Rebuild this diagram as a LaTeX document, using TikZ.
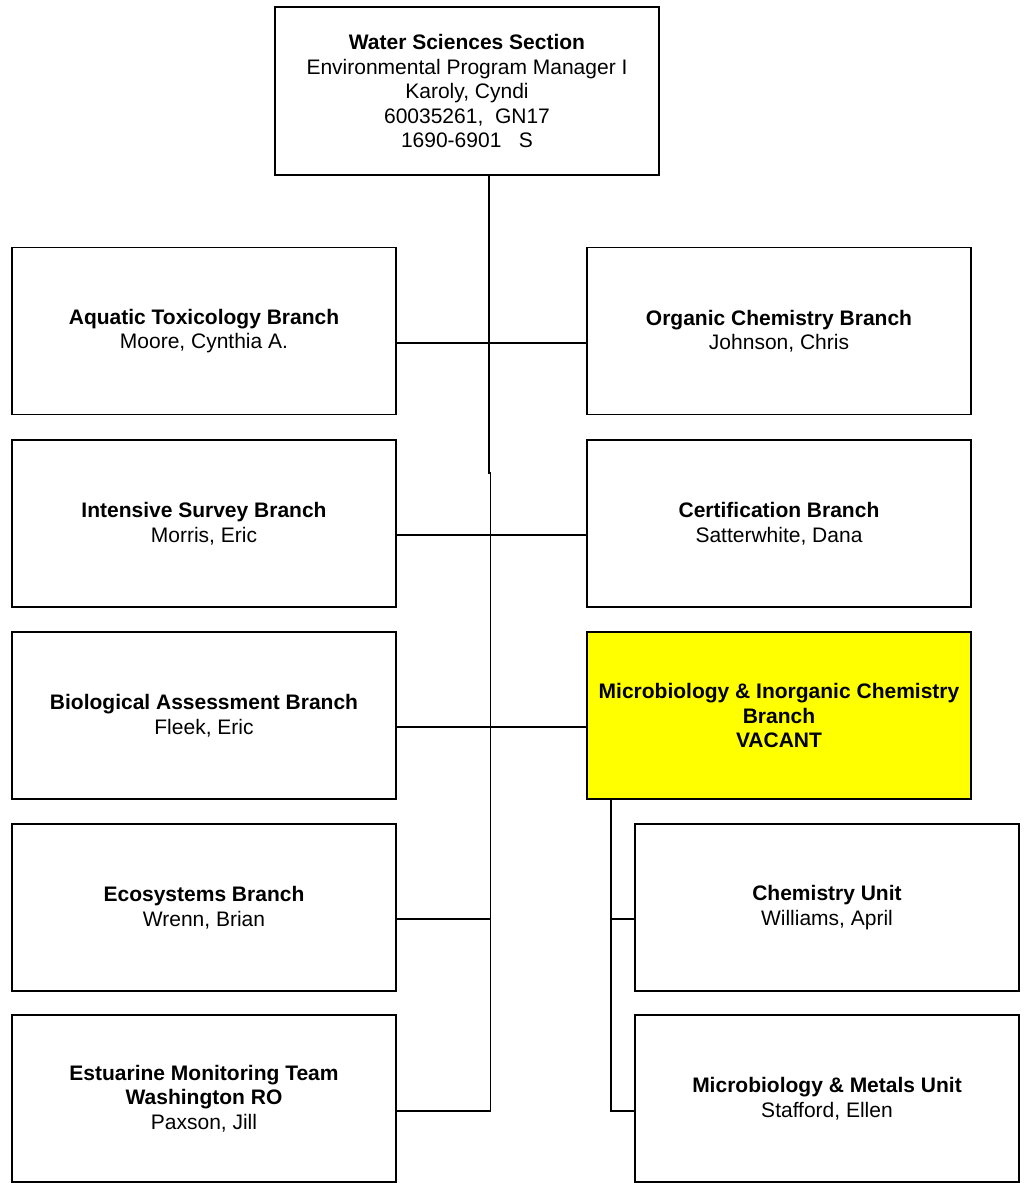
\documentclass[tikz,border=0pt]{standalone}
\usepackage{fontspec}
\setmainfont{Liberation Sans}
\begin{document}
\begin{tikzpicture}[x=1pt,y=-1pt,
  box/.style={draw, line width=1.6pt, minimum width=384pt, minimum height=167pt,
    align=center, inner sep=0pt, font=\fontsize{21}{24.5}\selectfont},
  vacant/.style={box, fill={rgb,255:red,255;green,255;blue,0}},
  conn/.style={line width=1.6pt}]
\path[use as bounding box] (0,0) rectangle (1025,1183);

\node[box, minimum height=168pt] (top) at (467,91) {\textbf{Water Sciences Section}\\Environmental Program Manager I\\Karoly, Cyndi\\60035261,\ \ GN17\\1690-6901\ \ \ S};

\node[box] (aqt) at (204,331) {\textbf{Aquatic Toxicology Branch}\\Moore, Cynthia A.};
\node[box] (isb) at (204,523.5) {\textbf{Intensive Survey Branch}\\Morris, Eric};
\node[box] (bab) at (204,715.5) {\textbf{Biological Assessment Branch}\\Fleek, Eric};
\node[box] (eco) at (204,907.5) {\textbf{Ecosystems Branch}\\Wrenn, Brian};
\node[box] (emt) at (204,1098.5) {\textbf{Estuarine Monitoring Team}\\\textbf{Washington RO}\\Paxson, Jill};

\node[box] (org) at (779,331) {\textbf{Organic Chemistry Branch}\\Johnson, Chris};
\node[box] (cert) at (779,523.5) {\textbf{Certification Branch}\\Satterwhite, Dana};
\node[vacant] (mic) at (779,715.5) {\textbf{Microbiology \& Inorganic Chemistry}\\\textbf{Branch}\\\textbf{VACANT}};

\node[box] (chem) at (827,907.5) {\textbf{Chemistry Unit}\\Williams, April};
\node[box] (mmu) at (827,1098.5) {\textbf{Microbiology \& Metals Unit}\\Stafford, Ellen};

\draw[conn] (top.south -| 489,0) -- (489,474);
\draw[conn] (490.5,472) -- (490.5,1111) -- (emt.east |- 0,1111);
\draw[conn] (aqt.east |- 0,343) -- (org.west |- 0,343);
\draw[conn] (isb.east |- 0,535) -- (cert.west |- 0,535);
\draw[conn] (bab.east |- 0,727) -- (mic.west |- 0,727);
\draw[conn] (eco.east |- 0,919) -- (490.5,919);
\draw[conn] (mic.south -| 611,0) -- (611,1111) -- (mmu.west |- 0,1111);
\draw[conn] (611,919) -- (chem.west |- 0,919);
\end{tikzpicture}
\end{document}
